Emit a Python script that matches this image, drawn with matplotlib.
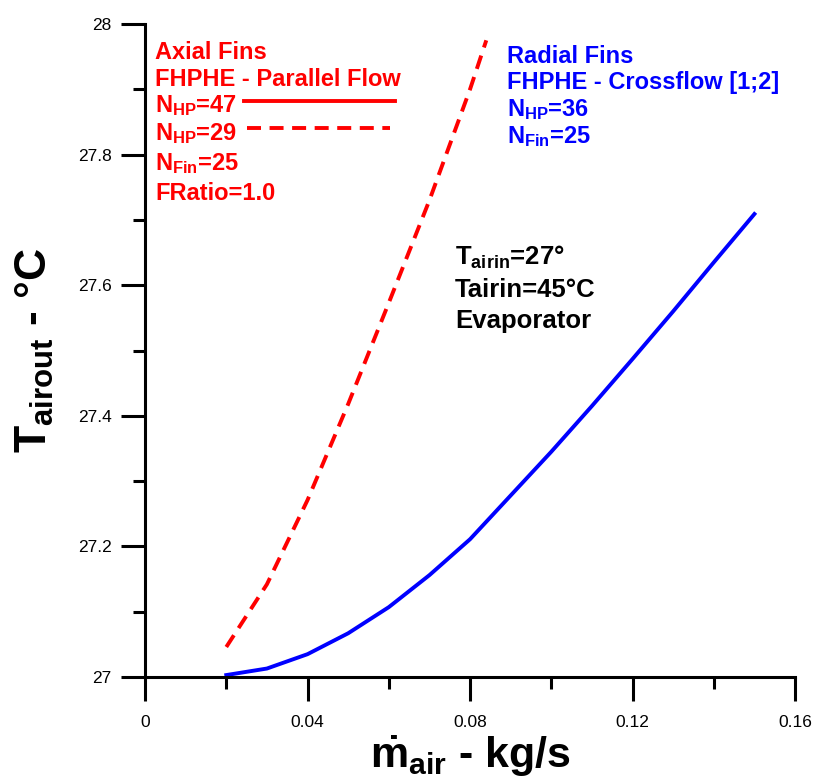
import matplotlib
matplotlib.use('Agg')
import matplotlib.pyplot as plt
from matplotlib.ticker import MultipleLocator, FormatStrFormatter

# mass flow (kg/s) and outlet air temperature (degC)
flowRadial = [0.02, 0.03, 0.04, 0.05, 0.06, 0.07, 0.08, 0.09, 0.10, 0.11, 0.12, 0.13, 0.14, 0.15]
toutRadial = [27.003, 27.013, 27.035, 27.067, 27.107, 27.156, 27.211, 27.278, 27.345,
              27.415, 27.487, 27.560, 27.635, 27.709]

flowAxial29 = [0.02, 0.03, 0.04, 0.05, 0.06, 0.07, 0.08, 0.084]
toutAxial29 = [27.046, 27.142, 27.271, 27.418, 27.573, 27.730, 27.900, 27.975]

xTicks = [0, 0.04, 0.08, 0.12, 0.16]
yTicks = [27, 27.2, 27.4, 27.6, 27.8, 28]

redText = ['Axial Fins', 'FHPHE - Parallel Flow', r'N$_{\mathrm{HP}}$=47',
           r'N$_{\mathrm{HP}}$=29', r'N$_{\mathrm{Fin}}$=25', 'FRatio=1.0']
blueText = ['Radial Fins', 'FHPHE - Crossflow [1;2]', r'N$_{\mathrm{HP}}$=36',
            r'N$_{\mathrm{Fin}}$=25']
blackText = [r'T$_{\mathrm{airin}}$=27°', 'Tairin=45°C', 'Evaporator']

RED = '#ff0000'
BLUE = '#0000ff'

plt.rcParams['font.family'] = ['Liberation Sans', 'DejaVu Sans']
plt.rcParams['mathtext.fontset'] = 'custom'
plt.rcParams['mathtext.rm'] = 'Liberation Sans:bold'
plt.rcParams['mathtext.it'] = 'Liberation Sans:bold'
plt.rcParams['mathtext.bf'] = 'Liberation Sans:bold'


def main():
    fig = plt.figure(figsize=(8.13, 7.79), dpi=100)
    ax = fig.add_axes([0.1784, 0.1309, 0.7995, 0.8383])

    ax.plot(flowRadial, toutRadial, color=BLUE, lw=2.8, solid_joinstyle='round')
    ax.plot(flowAxial29, toutAxial29, color=RED, lw=2.8, dashes=(3.6, 2.2))

    ax.set_xlim(0, 0.16)
    ax.set_ylim(27, 28)
    ax.set_xticks(xTicks)
    ax.set_yticks(yTicks)
    ax.xaxis.set_minor_locator(MultipleLocator(0.02))
    ax.yaxis.set_minor_locator(MultipleLocator(0.1))
    ax.xaxis.set_major_formatter(FormatStrFormatter('%g'))
    ax.yaxis.set_major_formatter(FormatStrFormatter('%g'))

    for side in ['top', 'right']:
        ax.spines[side].set_visible(False)
    for side in ['left', 'bottom']:
        ax.spines[side].set_linewidth(2.2)

    ax.tick_params(which='major', direction='out', length=17, width=2.2, labelsize=12.5)
    ax.tick_params(which='minor', direction='out', length=8.5, width=2.2)
    ax.tick_params(axis='x', which='major', pad=10)
    ax.tick_params(axis='y', which='major', pad=7)

    ax.set_xlabel(r'$\dot{\mathrm{m}}_{\mathrm{air}}$ - kg/s', fontsize=31,
                  fontweight='bold', labelpad=3)
    ax.set_ylabel(r'T$_{\mathrm{airout}}$ - °C', fontsize=32,
                  fontweight='bold', labelpad=16)

    # red block
    redY = [0.9464, 0.905, 0.8652, 0.8224, 0.7764, 0.7305]
    for txt, y in zip(redText, redY):
        ax.text(0.0154, y, txt, transform=ax.transAxes, color=RED, fontsize=17,
                fontweight='bold', va='baseline', ha='left')
    ax.plot([0.152, 0.385], [0.882, 0.882], transform=ax.transAxes, color=RED, lw=2.8)
    ax.plot([0.157, 0.377], [0.8407, 0.8407], transform=ax.transAxes, color=RED, lw=2.8,
            dashes=(3.6, 2.2))

    # blue block
    blueY = [0.9403, 0.9005, 0.8591, 0.8178]
    for txt, y in zip(blueText, blueY):
        ax.text(0.557, y, txt, transform=ax.transAxes, color=BLUE, fontsize=17,
                fontweight='bold', va='baseline', ha='left')

    # black block
    blackY = [0.631, 0.582, 0.5345]
    for txt, y in zip(blackText, blackY):
        ax.text(0.477, y, txt, transform=ax.transAxes, color='black', fontsize=18.5,
                fontweight='bold', va='baseline', ha='left')

    fig.savefig('out.png', dpi=100)


if __name__ == '__main__':
    main()
